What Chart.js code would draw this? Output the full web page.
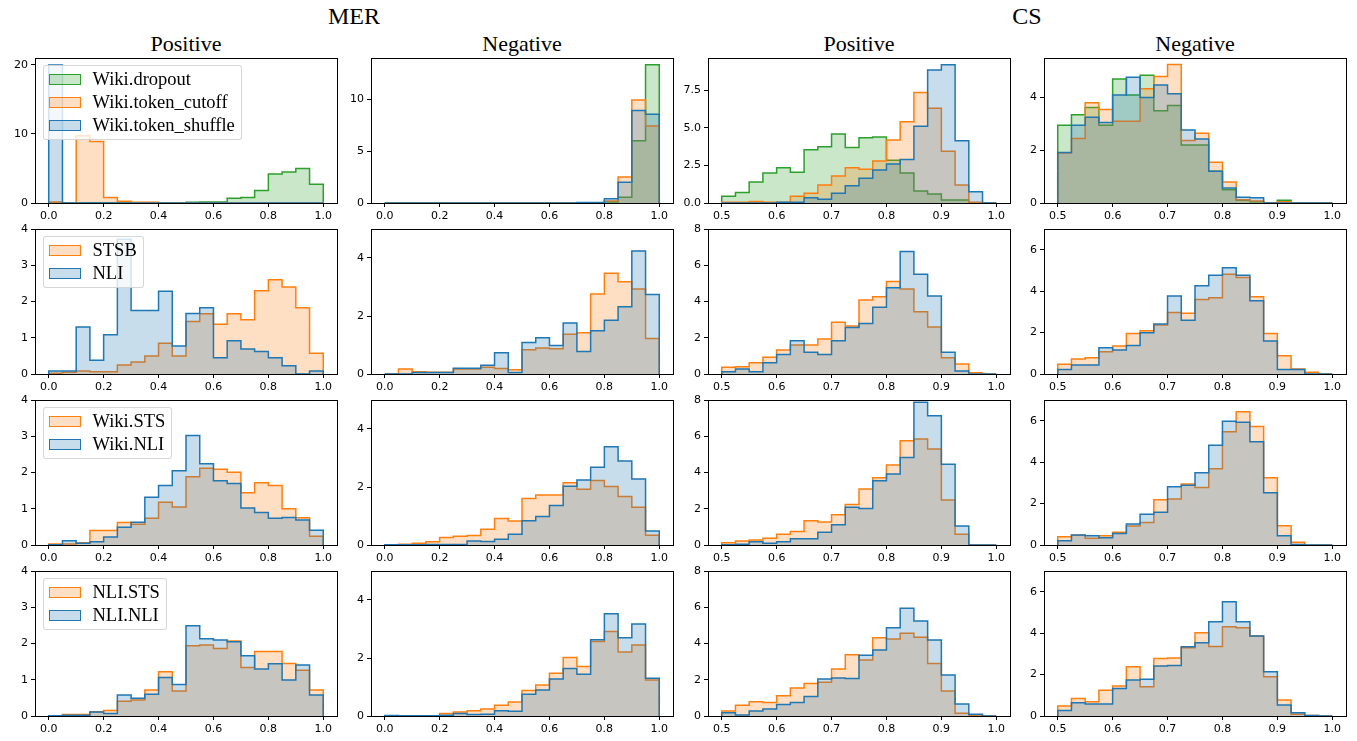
<!DOCTYPE html>
<html>
<head>
<meta charset="utf-8">
<script src="https://cdn.jsdelivr.net/npm/chart.js@4.4.1/dist/chart.umd.min.js"></script>
<style>
  body { margin: 0; background: #fff; }
  #fig { position: relative; width: 1357px; height: 741px; overflow: hidden; }
  #fig canvas { position: absolute; }
  .title { position: absolute; font-family: "Liberation Serif", serif; color: #000; white-space: nowrap; transform: translateX(-50%); }
  .legend { position: absolute; z-index: 2; background: rgba(255,255,255,0.8); border: 1px solid rgba(204,204,204,0.8); border-radius: 3px;
            padding: 2px 6px 2px 5px; font-family: "Liberation Serif", serif; font-size: 18.5px; color: #000; }
  .legend .row { display: flex; align-items: center; height: 23px; white-space: nowrap; }
  .legend .sw { width: 30px; height: 9px; border: 1.5px solid; margin-right: 11.5px; }
</style>
</head>
<body>
<div id="fig"></div>
<script>
// bin edges and ticks
const merBins = [0.0, 0.05, 0.1, 0.15, 0.2, 0.25, 0.3, 0.35, 0.4, 0.45, 0.5, 0.55, 0.6, 0.65, 0.7, 0.75, 0.8, 0.85, 0.9, 0.95, 1.0];
const csBins = [0.5, 0.525, 0.55, 0.575, 0.6, 0.625, 0.65, 0.675, 0.7, 0.725, 0.75, 0.775, 0.8, 0.825, 0.85, 0.875, 0.9, 0.925, 0.95, 0.975, 1.0];
const merXTicks = [0.0, 0.2, 0.4, 0.6, 0.8, 1.0];
const csXTicks = [0.5, 0.6, 0.7, 0.8, 0.9, 1.0];

const groupTitles = ['MER', 'CS'];
const panelTitles = ['Positive', 'Negative', 'Positive', 'Negative'];

const row1YMax = [21, 13.95, 9.65, 5.5];
const row1YTicks = [[0, 10, 20], [0, 5, 10], [0, 2.5, 5, 7.5], [0, 2, 4]];
const rowYMax = [4, 5, 8, 7];
const rowYTicks = [[0, 1, 2, 3, 4], [0, 2, 4], [0, 2, 4, 6, 8], [0, 2, 4, 6]];

// row 1: augmentation
const row1Labels = ['Wiki.dropout', 'Wiki.token_cutoff', 'Wiki.token_shuffle'];
const merPosDropout = [0, 0, 0, 0, 0, 0, 0, 0, 0, 0, 0.1, 0.15, 0.15, 0.7, 0.8, 1.8, 4.2, 4.5, 5.0, 2.7];
const merPosCutoff = [0.15, 0, 9.75, 8.9, 0.8, 0.25, 0.1, 0.1, 0, 0, 0, 0, 0, 0, 0, 0, 0, 0, 0, 0];
const merPosShuffle = [20, 0, 0, 0, 0, 0, 0, 0, 0, 0, 0, 0, 0, 0, 0, 0, 0, 0, 0, 0];
const merNegDropout = [0, 0, 0, 0, 0, 0, 0, 0, 0, 0, 0, 0, 0, 0, 0, 0, 0.1, 0.55, 6.0, 13.3];
const merNegCutoff = [0, 0, 0, 0, 0, 0, 0, 0, 0, 0, 0, 0, 0, 0, 0, 0, 0.2, 2.5, 9.9, 7.4];
const merNegShuffle = [0, 0, 0, 0, 0, 0, 0, 0, 0, 0, 0, 0, 0, 0, 0.05, 0.05, 0.4, 2.0, 8.9, 8.55];
const csPosDropout = [0.45, 0.7, 1.4, 2.0, 2.35, 2.05, 3.55, 3.75, 4.6, 3.7, 4.35, 4.4, 2.85, 2.0, 0.8, 0.6, 0.2, 0.2, 0, 0];
const csPosCutoff = [0.05, 0.05, 0.1, 0.05, 0.05, 0.45, 0.65, 1.2, 1.8, 2.35, 2.25, 2.8, 4.2, 5.4, 7.35, 6.3, 3.45, 1.2, 0.05, 0];
const csPosShuffle = [0, 0, 0, 0, 0.05, 0.05, 0.35, 0.25, 0.65, 1.15, 1.65, 2.2, 2.6, 2.9, 5.1, 8.85, 9.2, 4.15, 0.75, 0];
const csNegDropout = [2.95, 3.35, 3.62, 2.95, 4.7, 4.1, 4.85, 3.5, 3.7, 2.2, 2.2, 1.2, 0.5, 0.1, 0.05, 0, 0.1, 0, 0, 0];
const csNegCutoff = [1.9, 2.45, 3.8, 3.55, 3.1, 3.1, 4.33, 4.8, 5.25, 2.37, 2.65, 1.55, 0.8, 0.12, 0.08, 0, 0.05, 0, 0, 0];
const csNegShuffle = [1.92, 2.95, 3.25, 3.05, 4.1, 4.77, 4.0, 4.48, 4.14, 2.77, 2.43, 1.2, 0.57, 0.22, 0.2, 0, 0, 0, 0, 0];

// row 2: supervised
const row2Labels = ['STSB', 'NLI'];
const merPosStsb = [0.02, 0.05, 0.08, 0.06, 0.06, 0.25, 0.33, 0.5, 0.85, 0.5, 1.45, 1.66, 1.37, 1.66, 1.5, 2.3, 2.6, 2.4, 1.83, 0.57];
const merPosNli = [0.08, 0.08, 1.3, 0.38, 1.08, 3.72, 1.75, 1.75, 2.28, 0.77, 1.67, 1.83, 0.45, 0.92, 0.69, 0.62, 0.45, 0.23, 0, 0.08];
const merNegStsb = [0, 0.17, 0.08, 0.06, 0.06, 0.17, 0.17, 0.23, 0.19, 0.15, 0.84, 0.9, 0.87, 1.37, 1.42, 2.76, 3.47, 3.18, 2.93, 1.22];
const merNegNli = [0, 0, 0.05, 0.05, 0.05, 0.2, 0.2, 0.3, 0.73, 0.05, 1.09, 1.25, 0.98, 1.76, 0.78, 1.49, 1.85, 2.32, 4.24, 2.74];
const csPosStsb = [0.37, 0.4, 0.62, 0.92, 1.32, 1.6, 1.6, 1.93, 2.85, 2.65, 4.08, 4.26, 5.1, 4.69, 3.44, 2.6, 0.9, 0.55, 0.07, 0];
const csPosNli = [0.13, 0.28, 0.13, 0.62, 1.08, 1.84, 1.2, 1.07, 1.84, 2.57, 2.78, 3.68, 4.76, 6.76, 5.51, 4.3, 1.2, 0.17, 0, 0];
const csNegStsb = [0.47, 0.72, 0.79, 1.08, 1.35, 1.96, 2.09, 2.36, 2.97, 2.93, 3.6, 3.68, 4.82, 4.66, 3.73, 1.96, 0.88, 0.24, 0.08, 0];
const csNegNli = [0.22, 0.43, 0.43, 1.27, 1.16, 1.37, 1.99, 2.41, 3.76, 2.6, 4.26, 4.77, 5.13, 4.77, 3.54, 1.59, 0.22, 0.22, 0, 0];

// row 3: wiki + supervised
const row3Labels = ['Wiki.STS', 'Wiki.NLI'];
const merPosWikiSts = [0.03, 0.03, 0.06, 0.4, 0.4, 0.62, 0.57, 0.74, 1.18, 1.05, 1.88, 2.12, 2.09, 2.01, 1.44, 1.72, 1.64, 1.0, 0.75, 0.24];
const merPosWikiNli = [0.01, 0.12, 0.05, 0.09, 0.22, 0.49, 0.63, 1.32, 1.64, 2.05, 3.02, 2.24, 1.77, 1.7, 1.02, 0.9, 0.74, 0.76, 0.69, 0.41];
const merNegWikiSts = [0.01, 0.03, 0.06, 0.11, 0.26, 0.3, 0.33, 0.54, 0.91, 0.83, 1.6, 1.72, 1.72, 2.15, 1.92, 2.22, 2.02, 1.67, 1.3, 0.34];
const merNegWikiNli = [0.01, 0.01, 0.01, 0.02, 0.02, 0.02, 0.14, 0.12, 0.2, 0.37, 0.84, 0.98, 1.36, 2.03, 2.24, 2.68, 3.39, 2.9, 2.28, 0.48];
const csPosWikiSts = [0.13, 0.22, 0.28, 0.37, 0.6, 0.74, 1.34, 1.27, 1.67, 2.24, 3.09, 3.71, 4.41, 5.75, 5.85, 5.29, 2.48, 0.59, 0, 0];
const csPosWikiNli = [0.02, 0.04, 0.18, 0.09, 0.18, 0.35, 0.35, 0.7, 1.12, 2.08, 2.02, 3.55, 3.92, 4.83, 7.87, 7.13, 4.45, 1.05, 0, 0];
const csNegWikiSts = [0.4, 0.47, 0.32, 0.45, 0.61, 0.92, 1.09, 2.19, 2.22, 2.94, 2.77, 3.68, 5.47, 6.43, 5.72, 3.25, 0.93, 0.13, 0, 0];
const csNegWikiNli = [0.21, 0.48, 0.45, 0.35, 0.56, 1.01, 1.48, 1.58, 2.81, 2.89, 3.49, 4.82, 5.98, 5.92, 4.98, 2.52, 0.45, 0.02, 0, 0];

// row 4: nli + supervised
const row4Labels = ['NLI.STS', 'NLI.NLI'];
const merPosNliSts = [0.01, 0.04, 0.04, 0.12, 0.15, 0.41, 0.44, 0.72, 1.22, 0.69, 1.94, 1.96, 1.86, 2.07, 1.34, 1.78, 1.78, 1.45, 1.26, 0.72];
const merPosNliNli = [0.01, 0.02, 0.02, 0.11, 0.07, 0.58, 0.49, 0.6, 1.06, 0.87, 2.49, 2.13, 2.1, 2.05, 1.66, 1.3, 1.44, 0.99, 1.41, 0.58];
const merNegNliSts = [0.01, 0.01, 0.01, 0.01, 0.09, 0.14, 0.18, 0.24, 0.37, 0.48, 0.88, 1.07, 1.47, 2.02, 1.71, 2.57, 2.91, 2.21, 2.45, 1.24];
const merNegNliNli = [0.02, 0.01, 0.01, 0.01, 0.03, 0.09, 0.05, 0.06, 0.18, 0.16, 0.75, 0.9, 1.28, 1.64, 1.44, 2.63, 3.53, 2.7, 3.17, 1.3];
const csPosNliSts = [0.28, 0.6, 0.79, 0.75, 1.12, 1.54, 1.8, 1.86, 2.6, 3.38, 3.09, 4.32, 4.25, 4.56, 4.34, 2.9, 1.38, 0.15, 0.02, 0];
const csPosNliNli = [0.18, 0.05, 0.28, 0.39, 0.63, 0.75, 1.07, 2.04, 2.1, 2.07, 3.35, 3.64, 4.87, 5.94, 5.24, 4.19, 2.26, 0.66, 0.09, 0];
const csNegNliSts = [0.48, 0.84, 0.69, 1.24, 1.45, 2.38, 1.41, 2.77, 2.8, 3.3, 4.02, 3.35, 4.31, 4.26, 3.86, 1.9, 0.77, 0.08, 0.02, 0];
const csNegNliNli = [0.26, 0.64, 0.58, 0.58, 1.33, 1.74, 1.78, 2.41, 2.44, 3.34, 3.54, 4.55, 5.51, 4.55, 3.86, 2.14, 0.53, 0.16, 0.02, 0];

const GREEN = '#2ca02c', ORANGE = '#ff7f0e', BLUE = '#1f77b4';
const FILL_ALPHA = 0.25;

const rows = [
  { labels: row1Labels, colors: [GREEN, ORANGE, BLUE], yMax: row1YMax, yTicks: row1YTicks,
    panels: [[merPosDropout, merPosCutoff, merPosShuffle], [merNegDropout, merNegCutoff, merNegShuffle],
             [csPosDropout, csPosCutoff, csPosShuffle], [csNegDropout, csNegCutoff, csNegShuffle]] },
  { labels: row2Labels, colors: [ORANGE, BLUE], yMax: rowYMax, yTicks: rowYTicks,
    panels: [[merPosStsb, merPosNli], [merNegStsb, merNegNli], [csPosStsb, csPosNli], [csNegStsb, csNegNli]] },
  { labels: row3Labels, colors: [ORANGE, BLUE], yMax: rowYMax, yTicks: rowYTicks,
    panels: [[merPosWikiSts, merPosWikiNli], [merNegWikiSts, merNegWikiNli], [csPosWikiSts, csPosWikiNli], [csNegWikiSts, csNegWikiNli]] },
  { labels: row4Labels, colors: [ORANGE, BLUE], yMax: rowYMax, yTicks: rowYTicks,
    panels: [[merPosNliSts, merPosNliNli], [merNegNliSts, merNegNliNli], [csPosNliSts, csPosNliNli], [csNegNliSts, csNegNliNli]] },
];

// layout of the axes boxes
const colLeft = [35, 371, 708, 1044];
const rowTop = [58, 229, 400, 571];
const AX_W = 302, AX_H = 145;
const PAD_L = 36, PAD_T = 10, PAD_R = 10, PAD_B = 24;

const fig = document.getElementById('fig');

function alpha(hex, a) {
  const n = parseInt(hex.slice(1), 16);
  return `rgba(${(n >> 16) & 255},${(n >> 8) & 255},${n & 255},${a})`;
}

function stepPoints(bins, vals) {
  const pts = [{ x: bins[0], y: 0 }];
  vals.forEach((v, i) => pts.push({ x: bins[i], y: v }));
  pts.push({ x: bins[bins.length - 1], y: 0 });
  return pts;
}

function fmt(v, ticks) {
  const dec = ticks.some(t => !Number.isInteger(t)) ? 1 : 0;
  return v.toFixed(dec);
}

const frame = {
  id: 'frame',
  afterDatasetsDraw(chart) {
    const { ctx, chartArea: a } = chart;
    ctx.save();
    ctx.strokeStyle = '#000';
    ctx.lineWidth = 1;
    ctx.strokeRect(Math.round(a.left) + 0.5, Math.round(a.top) + 0.5, Math.round(a.right - a.left), Math.round(a.bottom - a.top));
    ctx.restore();
  }
};

function addText(cls, text, x, y, size) {
  const d = document.createElement('div');
  d.className = cls;
  d.textContent = text;
  d.style.left = x + 'px';
  d.style.top = y + 'px';
  d.style.fontSize = size + 'px';
  d.style.lineHeight = size + 'px';
  fig.appendChild(d);
}

// titles
addText('title', groupTitles[0], (colLeft[0] + colLeft[1]) / 2 + AX_W / 2, 4, 24);
addText('title', groupTitles[1], (colLeft[2] + colLeft[3]) / 2 + AX_W / 2, 4, 24);
panelTitles.forEach((t, c) => addText('title', t, colLeft[c] + AX_W / 2, 33, 22));

rows.forEach((row, r) => {
  row.panels.forEach((series, c) => {
    const isMer = c < 2;
    const bins = isMer ? merBins : csBins;
    const xTicks = isMer ? merXTicks : csXTicks;
    const xMin = bins[0], xMax = bins[bins.length - 1];
    const margin = (xMax - xMin) * 0.05;
    const yTicks = row.yTicks[c];

    const canvas = document.createElement('canvas');
    canvas.width = AX_W + PAD_L + PAD_R;
    canvas.height = AX_H + PAD_T + PAD_B;
    canvas.style.left = (colLeft[c] - PAD_L) + 'px';
    canvas.style.top = (rowTop[r] - PAD_T) + 'px';
    fig.appendChild(canvas);

    const n = series.length;
    new Chart(canvas, {
      type: 'line',
      data: {
        datasets: series.map((vals, i) => ({
          label: row.labels[i],
          data: stepPoints(bins, vals),
          stepped: 'before',
          borderColor: row.colors[i],
          backgroundColor: alpha(row.colors[i], FILL_ALPHA),
          borderWidth: 1.5,
          borderJoinStyle: 'miter',
          pointRadius: 0,
          fill: 'origin',
          order: n - i
        }))
      },
      options: {
        responsive: false,
        animation: false,
        devicePixelRatio: 1,
        events: [],
        layout: { padding: { left: 0, top: PAD_T, right: PAD_R, bottom: 0 } },
        plugins: { legend: { display: false }, tooltip: { enabled: false } },
        scales: {
          x: {
            type: 'linear',
            min: xMin - margin,
            max: xMax + margin,
            afterBuildTicks: s => { s.ticks = xTicks.map(v => ({ value: v })); },
            afterFit: s => { s.height = PAD_B; },
            grid: { display: true, drawOnChartArea: false, drawTicks: true, tickLength: 4, tickColor: '#000', tickWidth: 1 },
            border: { display: false },
            ticks: { autoSkip: false, maxRotation: 0, padding: 3, color: '#000',
                     font: { family: 'DejaVu Sans', size: 11 }, callback: v => v.toFixed(1) }
          },
          y: {
            min: 0,
            max: row.yMax[c],
            afterBuildTicks: s => { s.ticks = yTicks.map(v => ({ value: v })); },
            afterFit: s => { s.width = PAD_L; },
            grid: { display: true, drawOnChartArea: false, drawTicks: true, tickLength: 4, tickColor: '#000', tickWidth: 1 },
            border: { display: false },
            ticks: { autoSkip: false, padding: 3, color: '#000',
                     font: { family: 'DejaVu Sans', size: 11 }, callback: v => fmt(v, yTicks) }
          }
        }
      },
      plugins: [frame]
    });
  });

  // legend in the first column
  const lg = document.createElement('div');
  lg.className = 'legend';
  lg.style.left = (colLeft[0] + 8) + 'px';
  lg.style.top = (rowTop[r] + 7) + 'px';
  row.labels.forEach((lab, i) => {
    const item = document.createElement('div');
    item.className = 'row';
    const sw = document.createElement('span');
    sw.className = 'sw';
    sw.style.borderColor = row.colors[i];
    sw.style.background = alpha(row.colors[i], FILL_ALPHA);
    const tx = document.createElement('span');
    tx.textContent = lab;
    item.appendChild(sw);
    item.appendChild(tx);
    lg.appendChild(item);
  });
  fig.appendChild(lg);
});
</script>
</body>
</html>
